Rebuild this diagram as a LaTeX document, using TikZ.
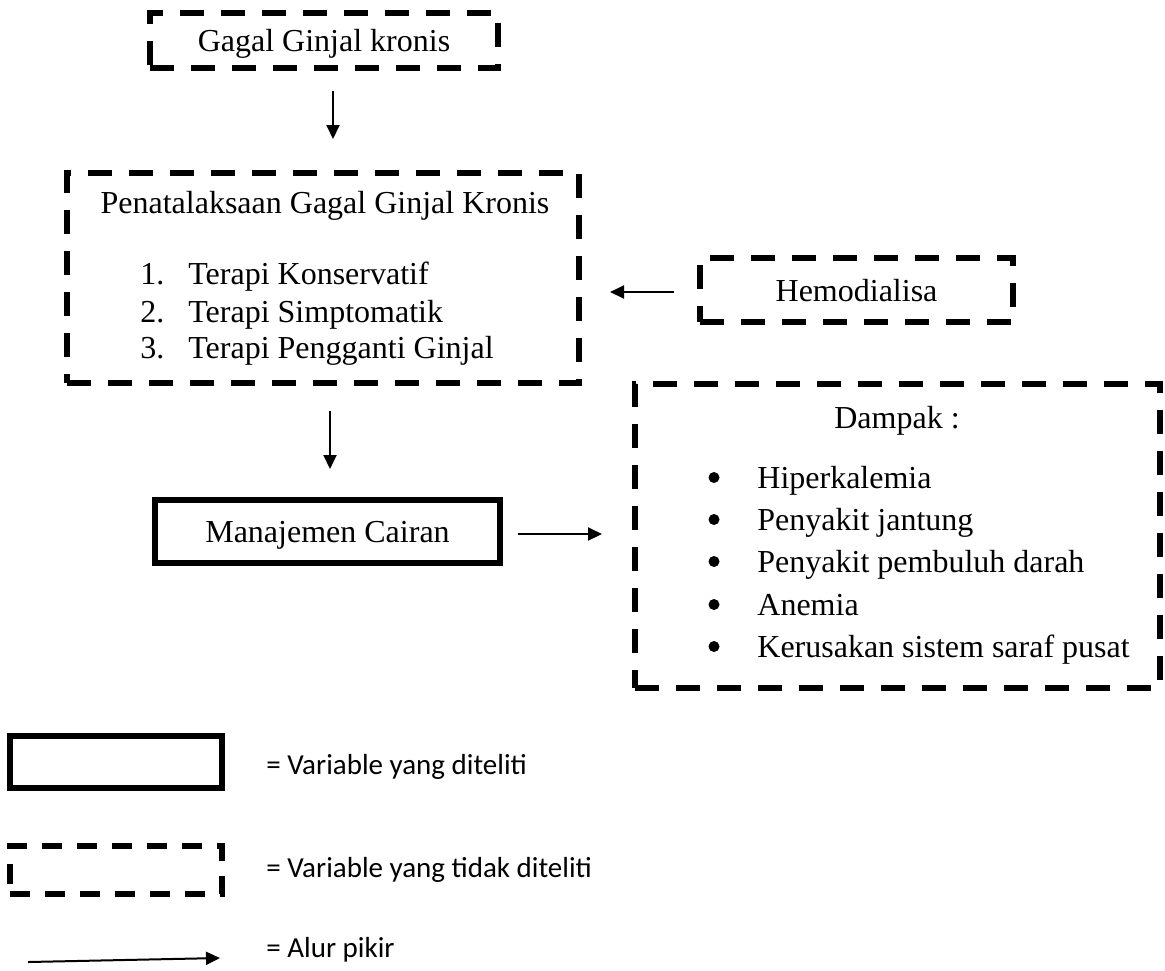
\documentclass[tikz,border=0pt]{standalone}
\usepackage{fontspec}
\setmainfont{Liberation Serif}
\newfontfamily\ketfont{Carlito}
\usetikzlibrary{arrows.meta,calc,positioning}

\begin{document}
\begin{tikzpicture}[x=.5pt,y=-.5pt,
  tidak/.style={draw,line width=3pt,dash pattern=on 12pt off 8.5pt,inner sep=0pt},
  diteliti/.style={draw,line width=3pt,inner sep=0pt},
  teks/.style={font=\fontsize{16}{19}\selectfont,inner sep=0pt,text depth=0pt},
  ket/.style={font=\ketfont\fontsize{14.5}{17}\selectfont,anchor=base west,inner sep=0pt},
  alur/.style={-{Triangle[length=7pt,width=6.5pt]},line width=1pt}]
\useasboundingbox (0,0) rectangle (1165,970);

% kerangka konsep
\node[tidak,teks,minimum width=174pt,minimum height=27.5pt] (gagal) at (324,40.5) {Gagal Ginjal kronis};
\node[tidak,minimum width=256pt,minimum height=105pt] (penata) at (323,278) {};
\node[teks,anchor=base] (judul) at (325,213) {Penatalaksaan Gagal Ginjal Kronis};
\foreach \n/\t/\y in {1/Terapi Konservatif/284,2/Terapi Simptomatik/322,3/Terapi Pengganti Ginjal/358}{
\node[teks,anchor=base west] (no\n) at (140,\y) {\n.};
\node[teks,anchor=base west] (terapi\n) at (188,\y) {\t};}
\node[tidak,teks,minimum width=156.5pt,minimum height=32pt] (hemo) at (856.5,290) {Hemodialisa};
\node[diteliti,teks,minimum width=172.5pt,minimum height=31.5pt] (cairan) at (327.5,531.5) {Manajemen Cairan};
\node[tidak,minimum width=262.5pt,minimum height=152pt] (dampak) at (897.5,536) {};
\node[teks,anchor=base] (judul2) at (897,428) {Dampak :};
\foreach \i/\t/\y in {1/Hiperkalemia/488,2/Penyakit jantung/530,3/Penyakit pembuluh darah/572,4/Anemia/615,5/Kerusakan sistem saraf pusat/657}{
\node[circle,fill,inner sep=0pt,minimum size=5.5pt] (titik\i) at (714,\y-10.5) {};
\node[teks,anchor=base west] (efek\i) at (757,\y) {\t};}

\draw[alur] ($(gagal.south)+(9,20)$) -- ($(penata.north)+(10,-31)$);
\draw[alur] ($(hemo.west)+(-23,2)$) -- ($(penata.east)+(28,14)$);
\draw[alur] ($(penata.south)+(7,25)$) -- ($(cairan.north)+(2.5,-28)$);
\draw[alur] ($(cairan.east)+(15,2.5)$) -- ($(dampak.west)+(-30,-2)$);

% keterangan
\node[diteliti,minimum width=106pt,minimum height=26pt] (kotak1) at (116,762) {};
\node[ket] (ket1) at (266,774) {= Variable yang diteliti};
\node[tidak,dash pattern=on 10pt off 7.5pt,minimum width=106pt,minimum height=24pt] (kotak2) at (116,870) {};
\node[ket] (ket2) at (266,877) {= Variable yang tidak diteliti};
\coordinate (pa) at (28,962);
\coordinate (pb) at (220,958);
\draw[alur] (pa) -- (pb);
\node[ket] (ket3) at (266,957) {= Alur pikir};
\end{tikzpicture}
\end{document}
